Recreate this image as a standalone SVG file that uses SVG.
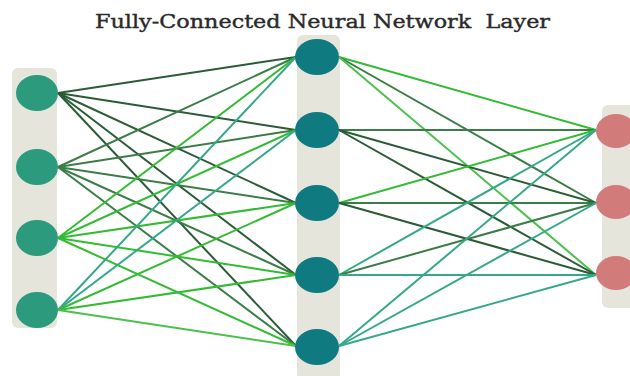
<svg xmlns="http://www.w3.org/2000/svg" width="630" height="376" viewBox="0 0 630 376">
<style>
.band{fill:#e5e5dc}
.in{fill:#2c9a7c}
.hid{fill:#0f7b80}
.out{fill:#d27b7b}
.e{stroke-width:2;fill:none}
.d{stroke:#2b5b37}
.m{stroke:#3b7d47}
.g{stroke:#33bb33}
.l{stroke:#4cc04c}
.t{stroke:#35a88a}
.title{font-family:"DejaVu Serif","Liberation Serif",serif;font-size:19px;fill:#2a2a2a;stroke:#2a2a2a;stroke-width:0.4;white-space:pre}
</style>
<rect width="630" height="376" fill="#ffffff"/>
<text class="title" x="95" y="28" textLength="455" lengthAdjust="spacingAndGlyphs" xml:space="preserve">Fully-Connected Neural Network  Layer</text>
<rect class="band" x="12" y="68" width="45" height="260" rx="6"/>
<rect class="band" x="297" y="35" width="43" height="345" rx="6"/>
<rect class="band" x="602" y="105" width="40" height="203" rx="6"/>
<g id="connectors">
<line class="e d" x1="58" y1="93" x2="296" y2="57"/>
<line class="e d" x1="58" y1="93" x2="296" y2="130"/>
<line class="e d" x1="58" y1="93" x2="296" y2="203"/>
<line class="e d" x1="58" y1="93" x2="296" y2="275"/>
<line class="e d" x1="58" y1="93" x2="296" y2="346"/>
<line class="e m" x1="58" y1="167" x2="296" y2="57"/>
<line class="e m" x1="58" y1="167" x2="296" y2="130"/>
<line class="e m" x1="58" y1="167" x2="296" y2="203"/>
<line class="e m" x1="58" y1="167" x2="296" y2="275"/>
<line class="e m" x1="58" y1="167" x2="296" y2="346"/>
<line class="e g" x1="58" y1="238" x2="296" y2="57"/>
<line class="e g" x1="58" y1="238" x2="296" y2="130"/>
<line class="e g" x1="58" y1="238" x2="296" y2="203"/>
<line class="e g" x1="58" y1="238" x2="296" y2="275"/>
<line class="e g" x1="58" y1="238" x2="296" y2="346"/>
<line class="e t" x1="58" y1="310" x2="296" y2="57"/>
<line class="e t" x1="58" y1="310" x2="296" y2="130"/>
<line class="e g" x1="58" y1="310" x2="296" y2="203"/>
<line class="e g" x1="58" y1="310" x2="296" y2="275"/>
<line class="e l" x1="58" y1="310" x2="296" y2="346"/>
<line class="e g" x1="339" y1="57" x2="596" y2="130"/>
<line class="e m" x1="339" y1="57" x2="596" y2="203"/>
<line class="e l" x1="339" y1="57" x2="596" y2="275"/>
<line class="e m" x1="339" y1="130" x2="596" y2="130"/>
<line class="e d" x1="339" y1="130" x2="596" y2="203"/>
<line class="e d" x1="339" y1="130" x2="596" y2="275"/>
<line class="e g" x1="339" y1="203" x2="596" y2="130"/>
<line class="e m" x1="339" y1="203" x2="596" y2="203"/>
<line class="e d" x1="339" y1="203" x2="596" y2="275"/>
<line class="e t" x1="339" y1="275" x2="596" y2="130"/>
<line class="e m" x1="339" y1="275" x2="596" y2="203"/>
<line class="e t" x1="339" y1="275" x2="596" y2="275"/>
<line class="e t" x1="339" y1="346" x2="596" y2="130"/>
<line class="e t" x1="339" y1="346" x2="596" y2="203"/>
<line class="e t" x1="339" y1="346" x2="596" y2="275"/>
</g>
<g id="in1"><ellipse class="in" cx="37" cy="93" rx="21" ry="18"/></g>
<g id="in2"><ellipse class="in" cx="37" cy="167" rx="21" ry="18"/></g>
<g id="in3"><ellipse class="in" cx="37" cy="238" rx="21" ry="18"/></g>
<g id="in4"><ellipse class="in" cx="37" cy="310" rx="21" ry="18"/></g>
<g id="h1"><ellipse class="hid" cx="317" cy="57" rx="22" ry="18"/></g>
<g id="h2"><ellipse class="hid" cx="317" cy="130" rx="22" ry="18"/></g>
<g id="h3"><ellipse class="hid" cx="317" cy="203" rx="22" ry="18"/></g>
<g id="h4"><ellipse class="hid" cx="317" cy="275" rx="22" ry="18"/></g>
<g id="h5"><ellipse class="hid" cx="317" cy="347" rx="22" ry="18"/></g>
<g id="o1"><ellipse class="out" cx="616" cy="131" rx="20" ry="17"/></g>
<g id="o2"><ellipse class="out" cx="616" cy="202" rx="20" ry="17"/></g>
<g id="o3"><ellipse class="out" cx="616" cy="273" rx="20" ry="17"/></g>
</svg>
